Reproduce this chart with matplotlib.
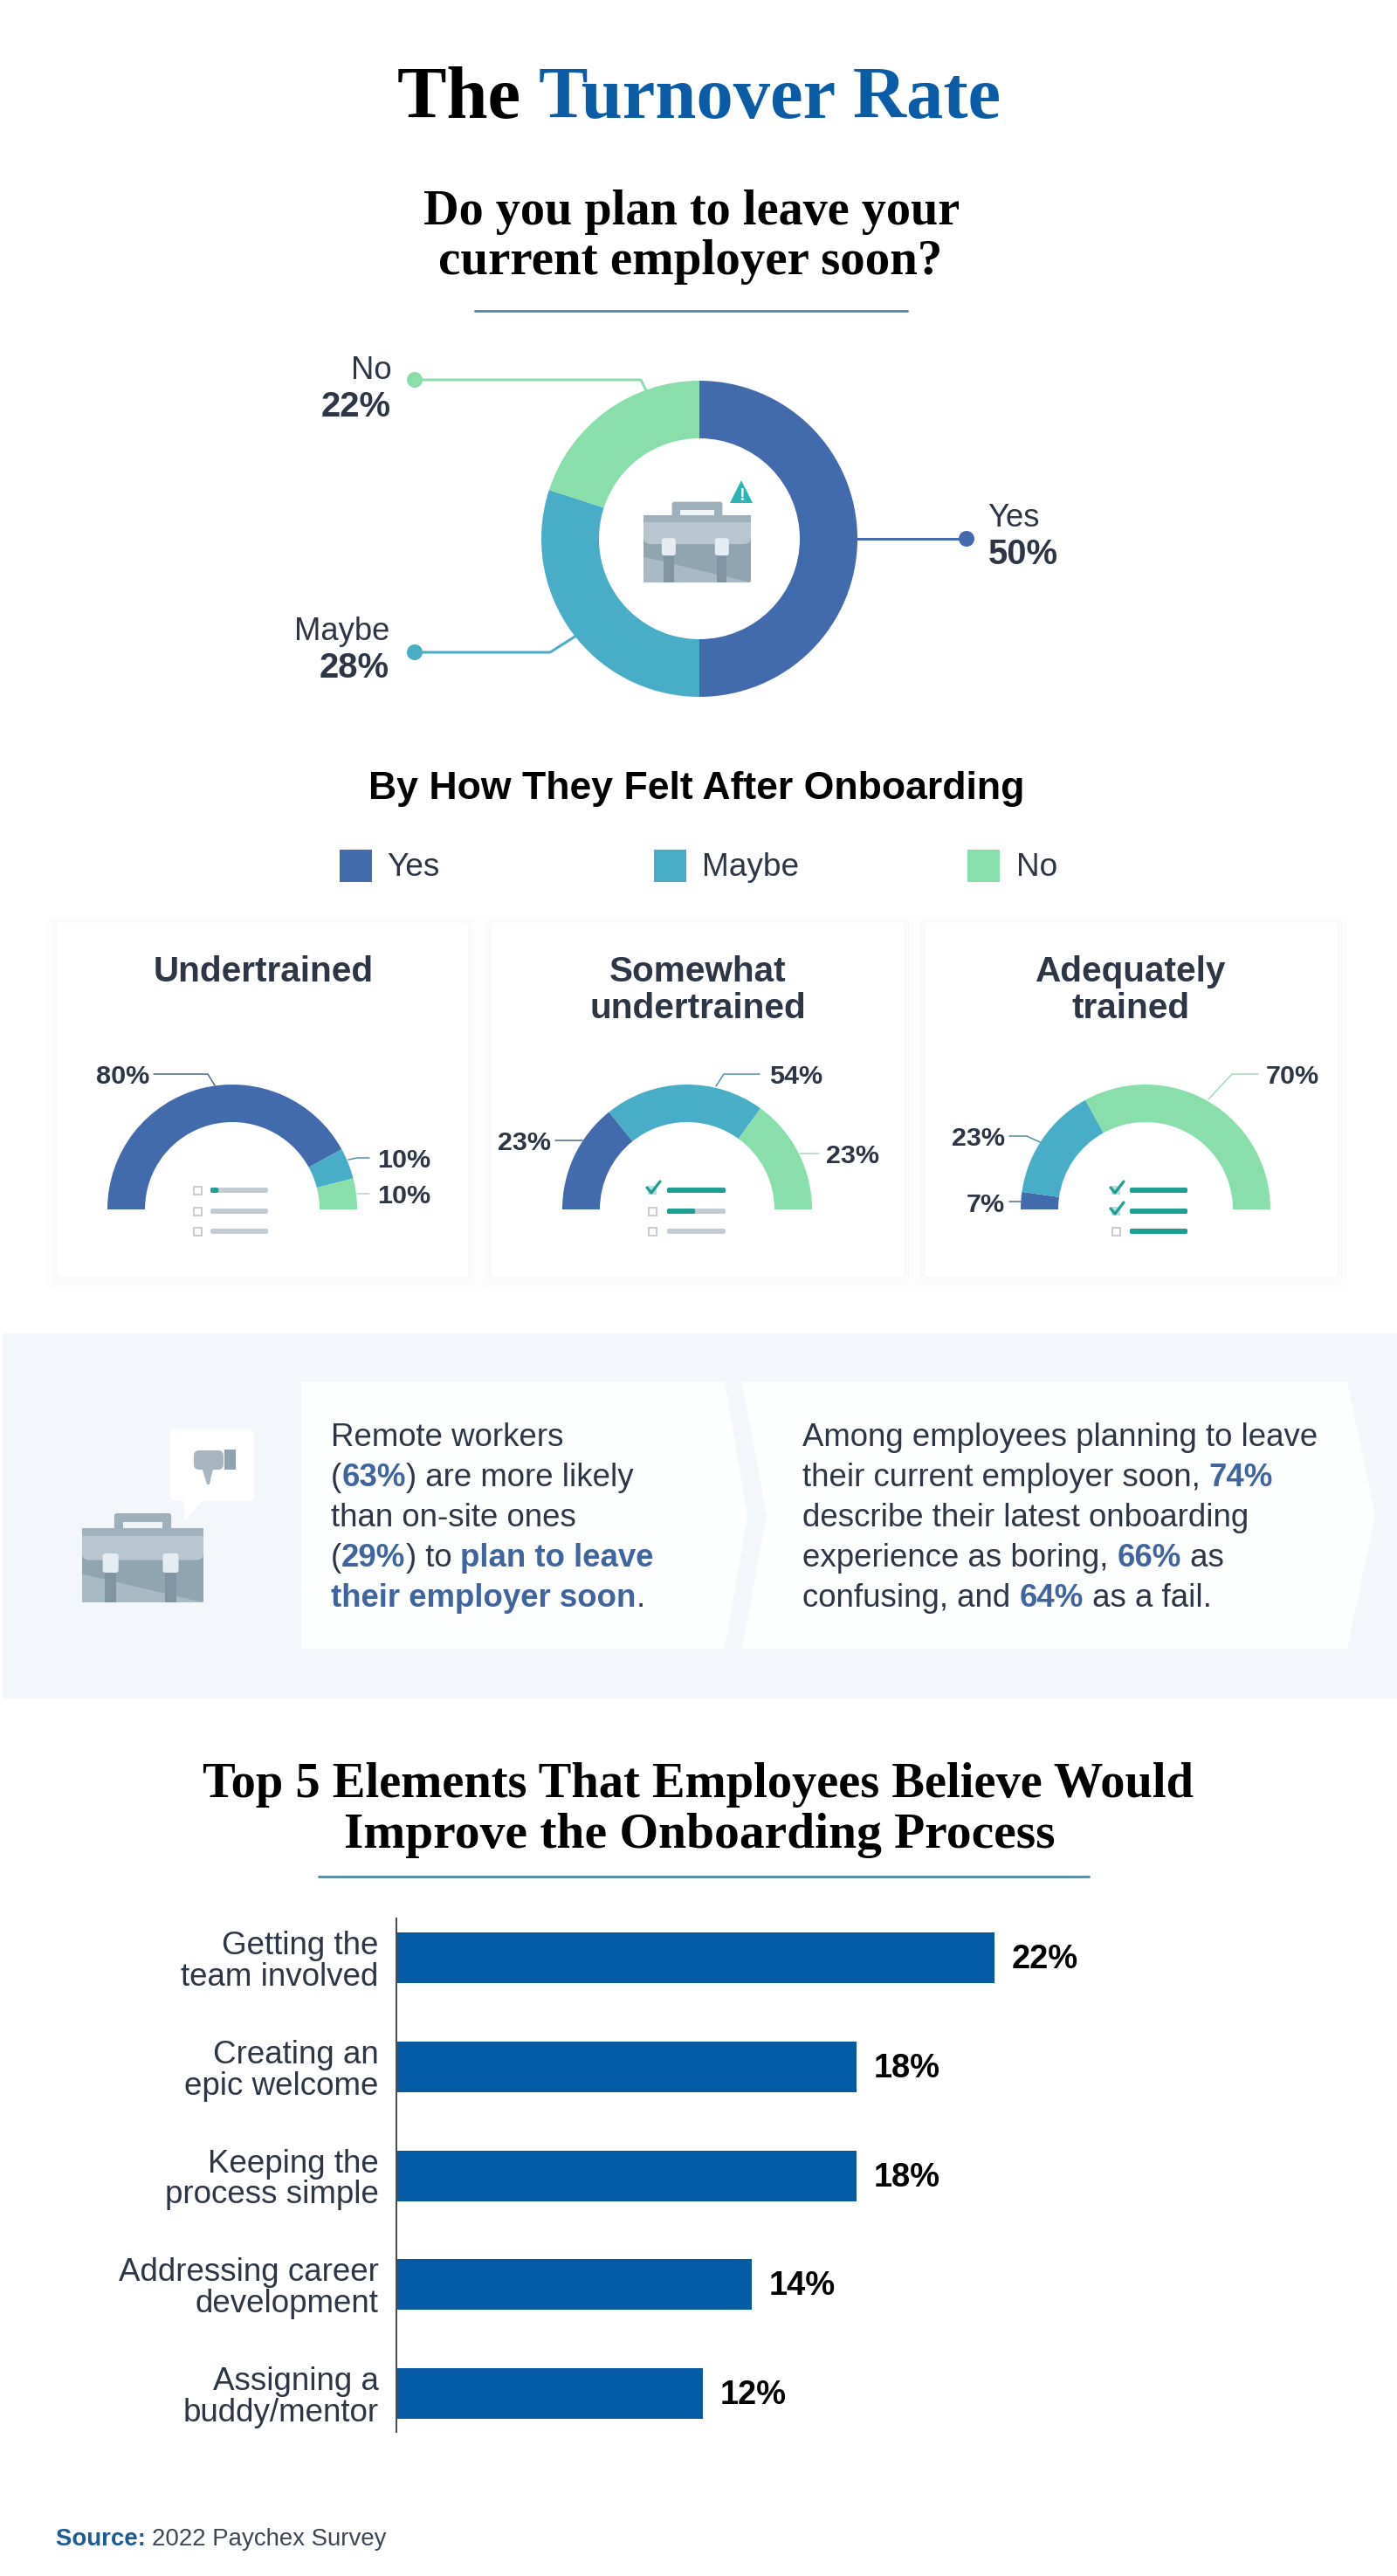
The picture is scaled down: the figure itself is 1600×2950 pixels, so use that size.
import matplotlib
matplotlib.use("Agg")
import matplotlib.pyplot as plt
from matplotlib.patches import FancyBboxPatch, Polygon, Rectangle, Circle

W, H = 1600, 2950

donut_names = ["Yes", "Maybe", "No"]
donut_labels = ["50%", "28%", "22%"]
donut_arcs = [50, 30, 20]

# half donuts
card_titles = [["Undertrained"], ["Somewhat", "undertrained"], ["Adequately", "trained"]]
card_arcs = [[84, 8, 8], [28.5, 41.5, 30], [4.5, 29.5, 66]]
card_labels = [["80%", "10%", "10%"], ["23%", "54%", "23%"], ["7%", "23%", "70%"]]

# bars, lengths, labels as printed
bar_names = ["Getting the\nteam involved", "Creating an\nepic welcome", "Keeping the\nprocess simple",
             "Addressing career\ndevelopment", "Assigning a\nbuddy/mentor"]
bar_lengths = [23.4, 18, 18, 13.9, 12]
bar_labels = ["22%", "18%", "18%", "14%", "12%"]

BLUE = "#426bae"
TEAL = "#48aec8"
GREEN = "#88dfaa"
INK = "#2d3646"
HILITE = "#3f659f"
BAR = "#055ba3"
RULE = "#5a8fa8"
CHECK = "#1f9e96"
GREY = "#c3ccd4"
SANS = "Liberation Sans"
SERIF = "Liberation Serif"

fig = plt.figure(figsize=(W / 100, H / 100), dpi=100)
ax = fig.add_axes([0, 0, 1, 1])
ax.set_xlim(0, W)
ax.set_ylim(H, 0)
ax.axis("off")
renderer = fig.canvas.get_renderer()


def px(size):
    return size * 0.72


def put(x, y, s, size, color=INK, weight="normal", ha="left", family=SANS):
    return ax.text(x, y, s, fontsize=px(size), color=color, fontweight=weight, ha=ha, va="baseline", family=family)


def text_width(s, size, weight="normal", family=SANS):
    # the bar keeps trailing spaces in the measure
    t = ax.text(0, 0, s + "|", fontsize=px(size), fontweight=weight, family=family)
    w = t.get_window_extent(renderer).width
    t.set_text("|")
    w -= t.get_window_extent(renderer).width
    t.remove()
    return w


def fit(s, width, weight="normal", family=SANS):
    return 100 * width / text_width(s, 100, weight, family)


def runs(x, y, parts, size, family=SANS):
    for s, color, weight in parts:
        put(x, y, s, size, color, weight, family=family)
        x += text_width(s, size, weight, family)


def heading(x, y, s, width):
    put(x, y, s, fit(s, width, "bold", SERIF), "black", "bold", "left", SERIF)


def leader(points, color, lw=1.5):
    xs, ys = zip(*points)
    ax.plot(xs, ys, color=color, lw=px(lw), solid_joinstyle="round", solid_capstyle="round")


def pie_axes(cx, cy, r):
    side = 2.5 * r
    a = fig.add_axes([(cx - side / 2) / W, 1 - (cy + side / 2) / H, side / W, side / H])
    a.patch.set_alpha(0)
    return a


def briefcase(x, y, w, h):
    # x, y is the top left corner of the body
    hw = w * 0.47
    hx = x + (w - hw) / 2
    hh = h * 0.2
    ax.add_patch(FancyBboxPatch((hx, y - hh), hw, hh + 4, boxstyle="round,pad=0,rounding_size=3", fc="#9eb0bc", ec="none"))
    ax.add_patch(Rectangle((hx + hw * 0.16, y - hh * 0.42), hw * 0.68, hh * 0.4, fc="#eef3f7", ec="none"))
    ax.add_patch(FancyBboxPatch((x, y), w, h, boxstyle="round,pad=0,rounding_size=2", fc="#8fa5b1", ec="none"))
    ax.add_patch(Polygon([(x, y + h * 0.62), (x + w, y + h), (x, y + h)], fc="#a7bac5", ec="none"))
    ax.add_patch(FancyBboxPatch((x, y), w, h * 0.43, boxstyle="round,pad=0,rounding_size=8", fc="#b8c6d2", ec="none"))
    ax.add_patch(Rectangle((x, y), w, h * 0.1, fc="#9fb1bd", ec="none"))
    for frac in (0.17, 0.665):
        bx = x + w * frac
        bw = w * 0.13
        ax.add_patch(Rectangle((bx + bw * 0.15, y + h * 0.55), bw * 0.7, h * 0.45, fc="#7f95a3", ec="none"))
        ax.add_patch(FancyBboxPatch((bx, y + h * 0.34), bw, h * 0.26, boxstyle="round,pad=0,rounding_size=3", fc="#e4ecf4", ec="none"))


def soft_box(x0, y0, x1, y1):
    for grow, col in ((12, "#fdfdfd"), (7, "#fbfbfc"), (3, "#f9f9fa")):
        ax.add_patch(FancyBboxPatch((x0 - grow, y0 - grow + 3), x1 - x0 + 2 * grow, y1 - y0 + 2 * grow,
                                    boxstyle="round,pad=0,rounding_size=8", fc=col, ec="none"))
    ax.add_patch(FancyBboxPatch((x0, y0), x1 - x0, y1 - y0, boxstyle="round,pad=0,rounding_size=5", fc="white", ec="none"))


def checklist(box_x, bar_x0, bar_x1, rows):
    for y, (checked, filled) in zip((1363, 1387, 1410), rows):
        if checked:
            ax.add_patch(Rectangle((box_x - 5, y - 5), 10, 10, fc="#b9dcdc", ec="none"))
            leader([(box_x - 6, y - 3), (box_x - 1, y + 3), (box_x + 9, y - 10)], CHECK, 3.2)
        else:
            ax.add_patch(Rectangle((box_x - 4.5, y - 4.5), 9, 9, fc="white", ec="#c9cdd1", lw=px(2)))
        length = bar_x1 - bar_x0
        ax.add_patch(FancyBboxPatch((bar_x0, y - 3), length, 6, boxstyle="round,pad=0,rounding_size=2", fc=GREY, ec="none"))
        if filled:
            ax.add_patch(FancyBboxPatch((bar_x0, y - 3), length * filled, 6, boxstyle="round,pad=0,rounding_size=2", fc=CHECK, ec="none"))


# headings
size = fit("The Turnover Rate", 690, "bold", SERIF)
runs(455, 135, [("The ", "black", "bold"), ("Turnover Rate", "#0b5ca6", "bold")], size, SERIF)

heading(485, 257, "Do you plan to leave your", 614)
heading(502, 314, "current employer soon?", 577)
leader([(544, 356), (1039, 356)], RULE, 3)

# main donut
a = pie_axes(801, 617, 181)
a.pie([v / 100 for v in donut_arcs], colors=[BLUE, TEAL, GREEN], startangle=90, counterclock=False,
      wedgeprops=dict(width=1 - 115 / 181, linewidth=0))

leader([(982, 617), (1107, 617)], BLUE, 3)
leader([(475, 747), (630, 747), (660, 728)], TEAL, 3)
leader([(475, 435), (734, 435), (740, 447)], GREEN, 3)
ax.add_patch(Circle((1107, 617), 9, fc=BLUE, ec="none"))
ax.add_patch(Circle((475, 747), 9, fc=TEAL, ec="none"))
ax.add_patch(Circle((475, 435), 9, fc=GREEN, ec="none"))

put(1131, 603, donut_names[0], 36.5)
put(1132, 646, donut_labels[0], 40, weight="bold")
put(446, 733, donut_names[1], 36.5, ha="right")
put(446, 776, donut_labels[1], 40, weight="bold", ha="right")
put(449, 434, donut_names[2], 36.5, ha="right")
put(448, 477, donut_labels[2], 40, weight="bold", ha="right")

briefcase(737, 590, 123, 77)
ax.add_patch(Polygon([(849, 550), (862, 576), (836, 576)], fc="#2bb5b5", ec="none"))
put(849, 573, "!", 20, "white", "bold", "center")

# onboarding section
size = fit("By How They Felt After Onboarding", 753, "bold")
put(798, 915, "By How They Felt After Onboarding", size, "black", "bold", "center")

for x, tx, name, col in zip((389, 749, 1108), (443, 804, 1164), donut_names, (BLUE, TEAL, GREEN)):
    ax.add_patch(Rectangle((x, 973), 37, 37, fc=col, ec="none"))
    put(tx, 1003, name, 37)

card_boxes = [(65, 536), (563, 1035), (1060, 1531)]
title_x = [302, 799, 1295]
ring_x = [266, 787, 1312]
for (x0, x1), titles, tx, cx, arcs in zip(card_boxes, card_titles, title_x, ring_x, card_arcs):
    soft_box(x0, 1057, x1, 1462)
    for i, line in enumerate(titles):
        put(tx, 1124 + 42 * i, line, 40.5, INK, "bold", "center")
    a = pie_axes(cx, 1385, 143)
    a.pie([v / 200 for v in arcs], colors=[BLUE, TEAL, GREEN], startangle=180, counterclock=False, normalize=False,
          wedgeprops=dict(width=1 - 100 / 143, linewidth=0))

# card 1 labels
put(171, 1241, card_labels[0][0], 30.5, weight="bold", ha="right")
put(432, 1337, card_labels[0][1], 30.5, weight="bold")
put(432, 1378, card_labels[0][2], 30.5, weight="bold")
leader([(176, 1230), (238, 1230), (246, 1243)], "#48688c")
leader([(423, 1326), (409, 1326), (399, 1328)], "#4f8fa5")
leader([(423, 1367), (409, 1367)], "#a5d8bd")
# card 2 labels
put(631, 1317, card_labels[1][0], 30.5, weight="bold", ha="right")
put(881, 1241, card_labels[1][1], 30.5, weight="bold")
put(946, 1332, card_labels[1][2], 30.5, weight="bold")
leader([(636, 1306), (667, 1306)], "#48688c")
leader([(870, 1230), (829, 1230), (820, 1244)], "#4f8fa5")
leader([(938, 1321), (916, 1321)], "#a5d8bd")
# card 3 labels
put(1151, 1388, card_labels[2][0], 30.5, weight="bold", ha="right")
put(1151, 1312, card_labels[2][1], 30.5, weight="bold", ha="right")
put(1450, 1241, card_labels[2][2], 30.5, weight="bold")
leader([(1156, 1376), (1169, 1376)], "#48688c")
leader([(1156, 1301), (1176, 1301), (1191, 1308)], "#4f8fa5")
leader([(1441, 1230), (1411, 1230), (1384, 1259)], "#a5d8bd")

checklist(226, 241, 307, [(False, 0.14), (False, 0), (False, 0)])
checklist(747, 764, 831, [(True, 1), (False, 0.48), (False, 0)])
checklist(1278, 1294, 1360, [(True, 1), (True, 1), (False, 1)])

# callout band
ax.add_patch(Rectangle((3, 1527), W - 3, 418, fc="#f3f7fb", ec="none"))
ax.add_patch(Polygon([(345, 1583), (830, 1583), (856, 1735), (830, 1888), (345, 1888)], fc="#fdfefe", ec="none"))
ax.add_patch(Polygon([(850, 1583), (1543, 1583), (1575, 1735), (1543, 1888), (850, 1888), (878, 1735)], fc="#fdfefe", ec="none"))

ax.add_patch(FancyBboxPatch((195, 1637), 96, 82, boxstyle="round,pad=0,rounding_size=7", fc="white", ec="none"))
ax.add_patch(Polygon([(211, 1715), (235, 1715), (211, 1742)], fc="white", ec="none"))
ax.add_patch(FancyBboxPatch((222, 1661), 34, 22, boxstyle="round,pad=0,rounding_size=6", fc="#a6b5c0", ec="none"))
ax.add_patch(Polygon([(231, 1680), (245, 1680), (242, 1690), (240, 1700), (237, 1700)], fc="#a6b5c0", ec="none"))
ax.add_patch(Rectangle((257, 1660), 13, 23, fc="#8ea4b1", ec="none"))
briefcase(94, 1750, 139, 85)

D = INK
B = HILITE
box1 = [
    [("Remote workers", D, "normal")],
    [("(", D, "normal"), ("63%", B, "bold"), (") are more likely", D, "normal")],
    [("than on-site ones", D, "normal")],
    [("(", D, "normal"), ("29%", B, "bold"), (") to ", D, "normal"), ("plan to leave", B, "bold")],
    [("their employer soon", B, "bold"), (".", D, "normal")],
]
box2 = [
    [("Among employees planning to leave", D, "normal")],
    [("their current employer soon, ", D, "normal"), ("74%", B, "bold")],
    [("describe their latest onboarding", D, "normal")],
    [("experience as boring, ", D, "normal"), ("66%", B, "bold"), (" as", D, "normal")],
    [("confusing, and ", D, "normal"), ("64%", B, "bold"), (" as a fail.", D, "normal")],
]
for i, parts in enumerate(box1):
    runs(379, 1656 + 46 * i, parts, 36.6)
for i, parts in enumerate(box2):
    runs(919, 1656 + 46 * i, parts, 36.6)

# top 5 section
heading(232, 2058, "Top 5 Elements That Employees Believe Would", 1137)
heading(394, 2116, "Improve the Onboarding Process", 813)
leader([(365, 2149), (1247, 2149)], RULE, 3)

axis_x = 453.5
unit = 29.3
pitch = 124.75
first = 2242
top, bottom = 2197, 2785
bx = fig.add_axes([axis_x / W, 1 - bottom / H, (W - axis_x) / W, (bottom - top) / H])
bx.patch.set_alpha(0)
ypos = list(range(len(bar_lengths)))
bx.barh(ypos, bar_lengths, height=58 / pitch, color=BAR)
bx.set_xlim(0, (W - axis_x) / unit)
bx.set_ylim((bottom - first) / pitch, (top - first) / pitch)
for side in ("top", "right", "bottom"):
    bx.spines[side].set_visible(False)
bx.spines["left"].set_color("#4a4f55")
bx.spines["left"].set_linewidth(px(2))
bx.set_xticks([])
bx.set_yticks(ypos)
bx.set_yticklabels(bar_names, fontsize=px(36.8), color=INK, family=SANS, ma="right", linespacing=1.03)
bx.tick_params(axis="y", length=0, pad=px(20))
for y, length, label in zip(ypos, bar_lengths, bar_labels):
    bx.annotate(label, xy=(length, y), xytext=(px(20), -px(2)), textcoords="offset points", va="center",
                fontsize=px(38), fontweight="bold", color="black", family=SANS)

runs(64, 2915, [("Source: ", "#1b5c96", "bold"), ("2022 Paychex Survey", "#3c4654", "normal")], 27.6)

fig.savefig("out.png", dpi=100, facecolor="white")
